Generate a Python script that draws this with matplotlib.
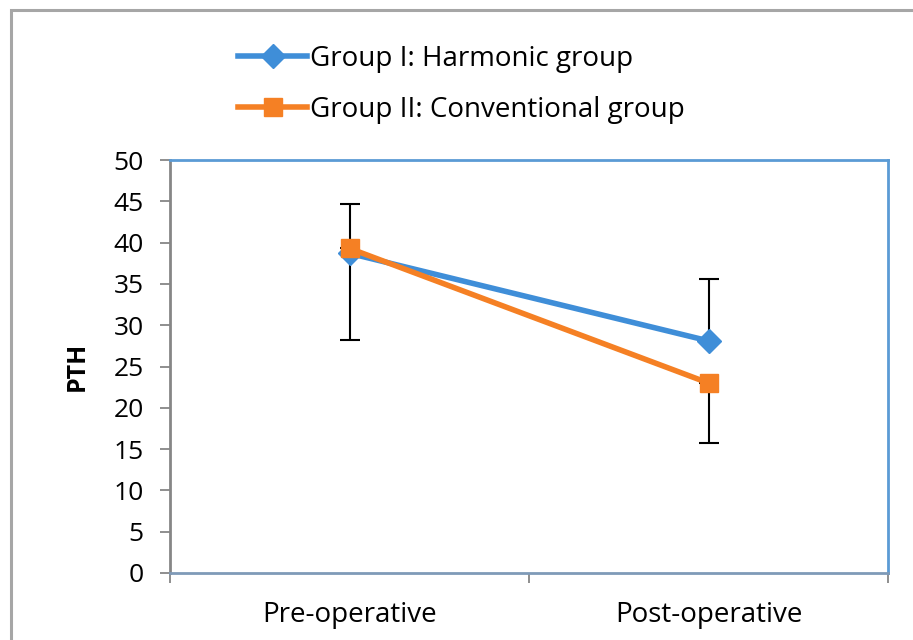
import matplotlib.pyplot as plt
from matplotlib.patches import Rectangle

# data
categories = ["Pre-operative", "Post-operative"]
harmonic = [38.7, 28.1]
harmonic_err_up = [6.0, 7.5]
conventional = [39.3, 23.0]
conventional_err_down = [11.1, 7.3]
labels = ["Group I: Harmonic group", "Group II: Conventional group"]

BLUE = "#3F8ED8"
ORANGE = "#F58024"

plt.rcParams['font.family'] = ['Open Sans', 'DejaVu Sans']

fig = plt.figure(figsize=(9.13, 6.4), dpi=100)
ax = fig.add_axes([170 / 913, 1 - 573 / 640, 718 / 913, 413 / 640])

# outer frame (left and top visible)
fig.patches.append(Rectangle((11 / 913, -0.1), 1.2, 1 - 10 / 640 + 0.1,
                             transform=fig.transFigure, fill=False,
                             edgecolor="#A6A6A6", linewidth=2.2))

x = [0.5, 1.5]
ax.errorbar(x, harmonic, yerr=[[0, 0], harmonic_err_up], fmt='none',
            ecolor='black', elinewidth=1.5, capsize=7, capthick=1.5, zorder=2)
ax.errorbar(x, conventional, yerr=[conventional_err_down, [0, 0]], fmt='none',
            ecolor='black', elinewidth=1.5, capsize=7, capthick=1.5, zorder=2)
ax.plot(x, harmonic, color=BLUE, linewidth=4, marker='D', markersize=12,
        label=labels[0], zorder=3)
ax.plot(x, conventional, color=ORANGE, linewidth=4, marker='s', markersize=13,
        label=labels[1], zorder=4)

ax.set_xlim(0, 2)
ax.set_ylim(0, 50)
ax.set_yticks(range(0, 51, 5))
ax.set_xticks([0, 1, 2], minor=False)
ax.set_xticklabels([])
ax.set_xticks(x, minor=True)
ax.set_xticklabels(categories, minor=True, fontsize=20)
ax.tick_params(axis='x', which='minor', length=0, pad=20)
ax.tick_params(axis='x', which='major', length=7, width=1.3, color='#868686')
ax.tick_params(axis='y', labelsize=19, length=7, width=1.3, color='#868686', pad=12)

for s in ['top', 'right']:
    ax.spines[s].set_color('#5B9BD5')
    ax.spines[s].set_linewidth(2)
ax.spines['left'].set_color('#868686')
ax.spines['left'].set_linewidth(2)
ax.spines['bottom'].set_color('#7F9AB8')
ax.spines['bottom'].set_linewidth(2)

ax.set_ylabel("PTH", fontsize=18, fontweight='bold', labelpad=17)

fig.legend(loc='upper left', bbox_to_anchor=(224 / 913, 1 - 31 / 640),
           frameon=False, fontsize=20, handlelength=2.5, handletextpad=0.1,
           labelspacing=0.83, borderpad=0)

fig.savefig("out.png", dpi=100)
